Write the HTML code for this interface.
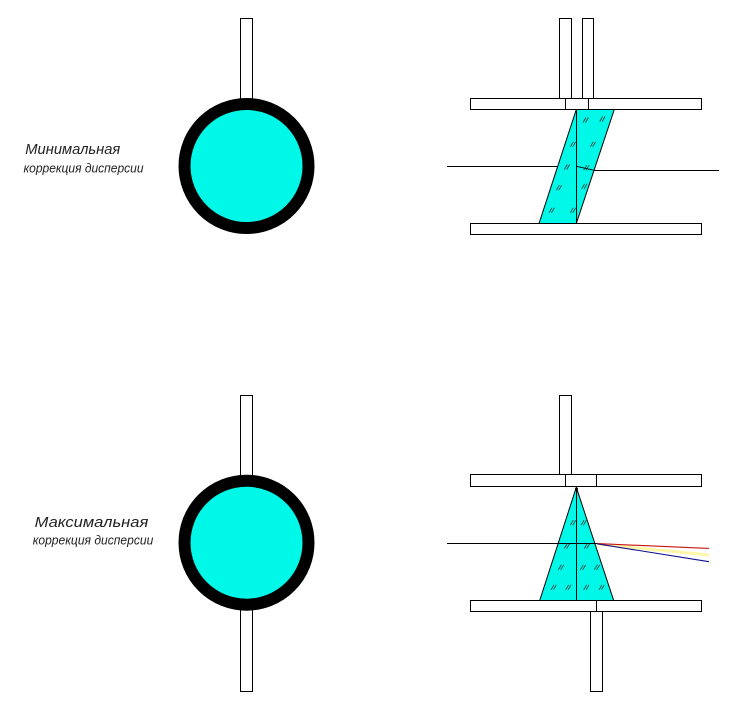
<!DOCTYPE html>
<html>
<head>
<meta charset="utf-8">
<style>
  html,body{margin:0;padding:0;background:#fff;}
  svg{display:block;}
  text{font-family:"Liberation Sans","DejaVu Sans",sans-serif;font-style:italic;fill:#222;}
</style>
</head>
<body>
<svg width="743" height="709" viewBox="0 0 743 709" xmlns="http://www.w3.org/2000/svg">
  <rect x="0" y="0" width="743" height="709" fill="#fff"/>

  <!-- Labels -->
  <text x="25.3" y="154" font-size="14.5" textLength="95" lengthAdjust="spacingAndGlyphs">Минимальная</text>
  <text x="23.5" y="172.7" font-size="13" textLength="120" lengthAdjust="spacingAndGlyphs">коррекция дисперсии</text>
  <text x="34.7" y="527" font-size="14.5" textLength="113.6" lengthAdjust="spacingAndGlyphs">Максимальная</text>
  <text x="32.7" y="544.7" font-size="13" textLength="120.6" lengthAdjust="spacingAndGlyphs">коррекция дисперсии</text>

  <g stroke="#000" stroke-width="1" fill="#fff">
    <!-- Top-left circle assembly -->
    <rect x="240.5" y="18.5" width="12" height="82"/>
    <circle cx="246.5" cy="166" r="62" fill="#00f8e8" stroke-width="12"/>

    <!-- Bottom-left circle assembly -->
    <rect x="240.5" y="395.5" width="12" height="82"/>
    <rect x="240.5" y="608.5" width="12" height="83"/>
    <circle cx="246.5" cy="542.7" r="62" fill="#00f8e8" stroke-width="12"/>

    <!-- Top-right: posts and plates -->
    <rect x="559.5" y="18.5" width="12" height="80"/>
    <rect x="582.5" y="18.5" width="11" height="80"/>
    <rect x="470.5" y="98.5" width="231" height="11"/>
    <line x1="565.5" y1="98.5" x2="565.5" y2="109.5"/>
    <line x1="588.5" y1="98.5" x2="588.5" y2="109.5"/>
    <rect x="470.5" y="223.5" width="231" height="11"/>
    <polygon points="576.3,109.5 614.3,109.5 576.3,223.5 539,223.5" fill="#00f8e8"/>
    <line x1="576.5" y1="109.5" x2="576.5" y2="223.5"/>

    <!-- Bottom-right: posts and plates -->
    <rect x="559.5" y="395.5" width="12" height="79"/>
    <rect x="470.5" y="474.5" width="231" height="12"/>
    <line x1="565.5" y1="474.5" x2="565.5" y2="486.5"/>
    <line x1="596.5" y1="474.5" x2="596.5" y2="486.5"/>
    <rect x="470.5" y="600.5" width="231" height="11"/>
    <line x1="596.5" y1="600.5" x2="596.5" y2="611.5"/>
    <rect x="590.5" y="611.5" width="12" height="80"/>
    <polygon points="576.3,487.3 613.7,600.5 539.7,600.5" fill="#00f8e8"/>
    <line x1="576.5" y1="487.5" x2="576.5" y2="600.5"/>
  </g>
  <circle cx="576.5" cy="489" r="1.5" fill="#000"/>

  <!-- Rays -->
  <g stroke="#000" stroke-width="1" fill="none">
    <line x1="447" y1="166.5" x2="557.7" y2="166.5"/>
    <line x1="576.5" y1="166.3" x2="594" y2="170.3"/>
    <line x1="594" y1="170.5" x2="719" y2="170.5"/>
    <line x1="447" y1="543.5" x2="598" y2="543.5"/>
  </g>
  <line x1="597" y1="544" x2="709" y2="555" stroke="#fff6a8" stroke-width="3"/>
  <line x1="597" y1="543.6" x2="709" y2="548.4" stroke="#c81414" stroke-width="1.1"/>
  <line x1="597" y1="543.8" x2="709" y2="561.7" stroke="#101090" stroke-width="1.1"/>

  <!-- Hatch marks -->
  <g stroke="#333" stroke-width="0.8" fill="none">
    <!-- top prism -->
    <path d="M583 122.5 L586 117.5 M585.4 122.5 L588.4 117.5"/>
    <path d="M599.7 121.5 L602.7 116.5 M602.1 121.5 L605.1 116.5"/>
    <path d="M570.3 146.8 L573.3 141.8 M572.7 146.8 L575.7 141.8"/>
    <path d="M590.3 146.8 L593.3 141.8 M592.7 146.8 L595.7 141.8"/>
    <path d="M564.3 169.5 L567.3 164.5 M566.7 169.5 L569.7 164.5"/>
    <path d="M583.7 170.2 L586.7 165.2 M586.1 170.2 L589.1 165.2"/>
    <path d="M556.3 190.2 L559.3 185.2 M558.7 190.2 L561.7 185.2"/>
    <path d="M581.7 188.8 L584.7 183.8 M584.1 188.8 L587.1 183.8"/>
    <path d="M549 212.8 L552 207.8 M551.4 212.8 L554.4 207.8"/>
    <path d="M570.3 212.8 L573.3 207.8 M572.7 212.8 L575.7 207.8"/>
    <!-- bottom prism -->
    <path d="M570.3 525.2 L573.3 520.2 M572.7 525.2 L575.7 520.2"/>
    <path d="M581 525.2 L584 520.2 M583.4 525.2 L586.4 520.2"/>
    <path d="M564.3 548.5 L567.3 543.5 M566.7 548.5 L569.7 543.5"/>
    <path d="M584.3 548.5 L587.3 543.5 M586.7 548.5 L589.7 543.5"/>
    <path d="M558.3 569.8 L561.3 564.8 M560.7 569.8 L563.7 564.8"/>
    <path d="M580.3 569.8 L583.3 564.8 M582.7 569.8 L585.7 564.8"/>
    <path d="M594.3 569.8 L597.3 564.8 M596.7 569.8 L599.7 564.8"/>
    <path d="M551 589.8 L554 584.8 M553.4 589.8 L556.4 584.8"/>
    <path d="M565.7 589.8 L568.7 584.8 M568.1 589.8 L571.1 584.8"/>
    <path d="M583.7 589.8 L586.7 584.8 M586.1 589.8 L589.1 584.8"/>
    <path d="M599 589.8 L602 584.8 M601.4 589.8 L604.4 584.8"/>
  </g>
</svg>
</body>
</html>
